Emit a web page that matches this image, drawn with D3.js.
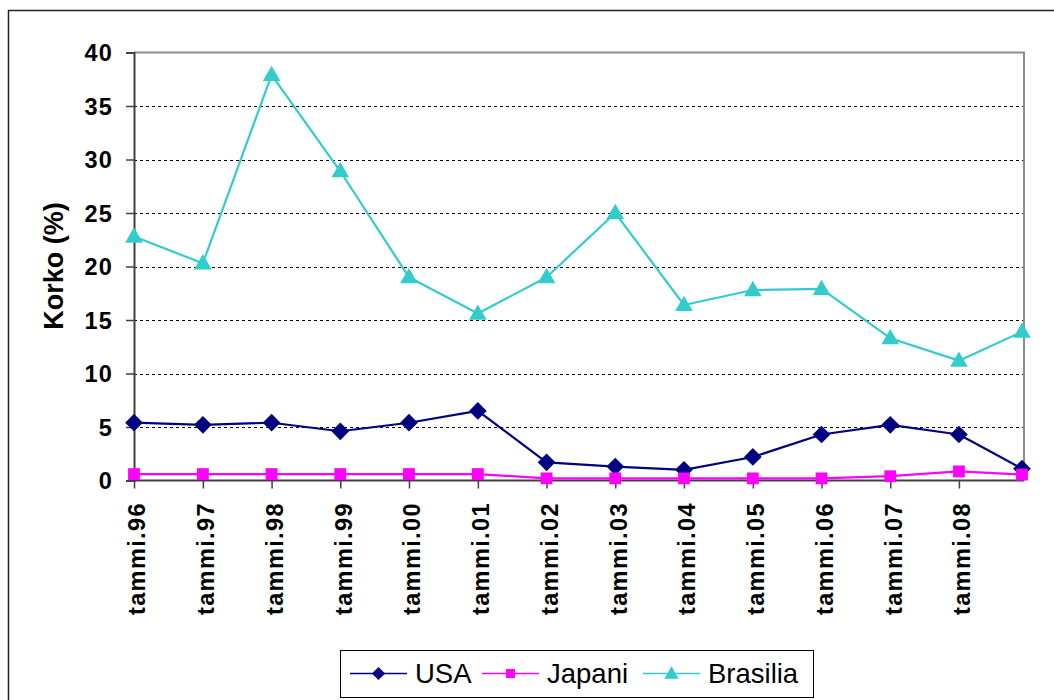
<!DOCTYPE html>
<html>
<head>
<meta charset="utf-8">
<script src="https://cdn.jsdelivr.net/npm/d3@7/dist/d3.min.js"></script>
<style>
  html, body { margin: 0; padding: 0; background: #fff; }
  svg { display: block; }
</style>
</head>
<body>
<svg id="chart" width="1054" height="700"></svg>
<script>
// ---- data ----
const dates = ["1996-01","1997-01","1998-01","1999-01","2000-01","2001-01","2002-01",
               "2003-01","2004-01","2005-01","2006-01","2007-01","2008-01","2008-12"];
const usa      = [5.4, 5.2, 5.4, 4.6, 5.4, 6.5, 1.7, 1.3, 1.0, 2.2, 4.3, 5.2, 4.3, 1.1];
const japani   = [0.6, 0.6, 0.6, 0.6, 0.6, 0.6, 0.2, 0.2, 0.2, 0.2, 0.2, 0.4, 0.85, 0.55];
const brasilia = [22.8, 20.3, 37.9, 28.9, 19.0, 15.6, 19.0, 25.0, 16.4, 17.8, 17.9, 13.3, 11.2, 13.9];
const seriesNames = ["USA", "Japani", "Brasilia"];
const tickDates = ["1996-01","1997-01","1998-01","1999-01","2000-01","2001-01","2002-01",
                   "2003-01","2004-01","2005-01","2006-01","2007-01","2008-01"];
const tickLabels = ["tammi.96","tammi.97","tammi.98","tammi.99","tammi.00","tammi.01","tammi.02",
                    "tammi.03","tammi.04","tammi.05","tammi.06","tammi.07","tammi.08"];
const yTicks = [0, 5, 10, 15, 20, 25, 30, 35, 40];
const yTitle = "Korko (%)";

// ---- setup ----
const parse = d3.timeParse("%Y-%m");
const svg = d3.select("#chart");
const L = 134, R = 1024, T = 52.5, B = 480.5;

const x = d3.scaleTime()
  .domain([parse(dates[0]), parse(dates[dates.length - 1])])
  .range([L, 1022]);
const y = d3.scaleLinear().domain([0, 40]).range([B, T]);

// outer frame
svg.append("rect")
  .attr("x", 8.5).attr("y", 10.5).attr("width", 1100).attr("height", 800)
  .attr("fill", "none").attr("stroke", "#222").attr("stroke-width", 1.5);

// gridlines
svg.append("g").selectAll("line")
  .data(yTicks.filter(v => v > 0 && v < 40))
  .join("line")
  .attr("x1", L).attr("x2", R)
  .attr("y1", d => Math.round(y(d)) + 0.5).attr("y2", d => Math.round(y(d)) + 0.5)
  .attr("stroke", "#000").attr("stroke-width", 1).attr("stroke-dasharray", "3,3");

// plot border (top & right gray)
svg.append("path")
  .attr("d", `M${L},${T}H${R}V${B}`)
  .attr("fill", "none").attr("stroke", "#8c8c8c").attr("stroke-width", 2);

// y axis
const yAxis = d3.axisLeft(y).tickValues(yTicks).tickSize(8).tickPadding(13).tickFormat(d3.format("d"));
const gy = svg.append("g").attr("transform", `translate(${L},0)`).call(yAxis);
gy.select(".domain").attr("stroke", "#404040").attr("stroke-width", 2);
gy.selectAll(".tick line").attr("stroke", "#404040").attr("stroke-width", 1.5);
gy.selectAll(".tick text")
  .attr("font-family", "Liberation Sans, Arial, sans-serif")
  .attr("font-weight", "bold").attr("font-size", 23.5).attr("letter-spacing", 1.2)
  .attr("fill", "#000").attr("dy", "0.36em");

// x axis
const xAxis = d3.axisBottom(x).tickValues(tickDates.map(parse)).tickSize(8).tickFormat("");
const gx = svg.append("g").attr("transform", `translate(0,${B})`).call(xAxis);
gx.select(".domain").attr("d", `M${L},0H${R}`).attr("stroke", "#404040").attr("stroke-width", 2);
gx.selectAll(".tick line").attr("stroke", "#404040").attr("stroke-width", 1.5);

svg.append("g").selectAll("text")
  .data(tickDates)
  .join("text")
  .attr("transform", (d) => `translate(${x(parse(d)) + 3},502) rotate(-90)`)
  .attr("dy", "0.36em")
  .attr("text-anchor", "end")
  .attr("font-family", "Liberation Sans, Arial, sans-serif")
  .attr("font-weight", "bold").attr("font-size", 23.5).attr("letter-spacing", 1.4)
  .attr("fill", "#000")
  .text((d, i) => tickLabels[i]);

// y title
svg.append("text")
  .attr("transform", `translate(53,266) rotate(-90)`)
  .attr("dy", "0.36em")
  .attr("text-anchor", "middle")
  .attr("font-family", "Liberation Sans, Arial, sans-serif")
  .attr("font-weight", "bold").attr("font-size", 27)
  .attr("fill", "#000")
  .text(yTitle);

// markers
const colors = ["#000080", "#ff00ff", "#33cccc"];
const symbols = [
  d3.symbol().type(d3.symbolDiamond2).size(200),
  d3.symbol().type(d3.symbolSquare).size(140),
  d3.symbol().type(d3.symbolTriangle).size(135)
];
const seriesData = [usa, japani, brasilia];

const line = d3.line()
  .x((d, i) => x(parse(dates[i])))
  .y(d => y(d));

seriesData.forEach((vals, s) => {
  svg.append("path")
    .datum(vals)
    .attr("d", line)
    .attr("fill", "none")
    .attr("stroke", colors[s])
    .attr("stroke-width", 2.2)
    .attr("stroke-linejoin", "round");
});
seriesData.forEach((vals, s) => {
  svg.append("g").selectAll("path")
    .data(vals)
    .join("path")
    .attr("transform", (d, i) => `translate(${x(parse(dates[i]))},${y(d) + (s === 2 ? 1 : 0)})`)
    .attr("d", symbols[s])
    .attr("fill", colors[s]);
});

// legend
const lg = svg.append("g");
lg.append("rect")
  .attr("x", 340.5).attr("y", 650.5).attr("width", 473).attr("height", 47)
  .attr("fill", "#fff").attr("stroke", "#000").attr("stroke-width", 1);
const legendX = [350, 482, 643];
const legendSym = [
  d3.symbol().type(d3.symbolDiamond2).size(110),
  d3.symbol().type(d3.symbolSquare).size(80),
  d3.symbol().type(d3.symbolTriangle).size(90)
];
seriesNames.forEach((name, s) => {
  const lx = legendX[s], ly = 673.5;
  lg.append("line")
    .attr("x1", lx).attr("x2", lx + 57).attr("y1", ly).attr("y2", ly)
    .attr("stroke", colors[s]).attr("stroke-width", 1.5);
  lg.append("path")
    .attr("transform", `translate(${lx + 28.5},${ly + (s === 2 ? 1 : 0)})`)
    .attr("d", legendSym[s]).attr("fill", colors[s]);
  lg.append("text")
    .attr("x", lx + 65).attr("y", ly).attr("dy", "0.36em")
    .attr("font-family", "Liberation Sans, Arial, sans-serif")
    .attr("font-size", 27.5).attr("fill", "#000")
    .text(name);
});
</script>
</body>
</html>
